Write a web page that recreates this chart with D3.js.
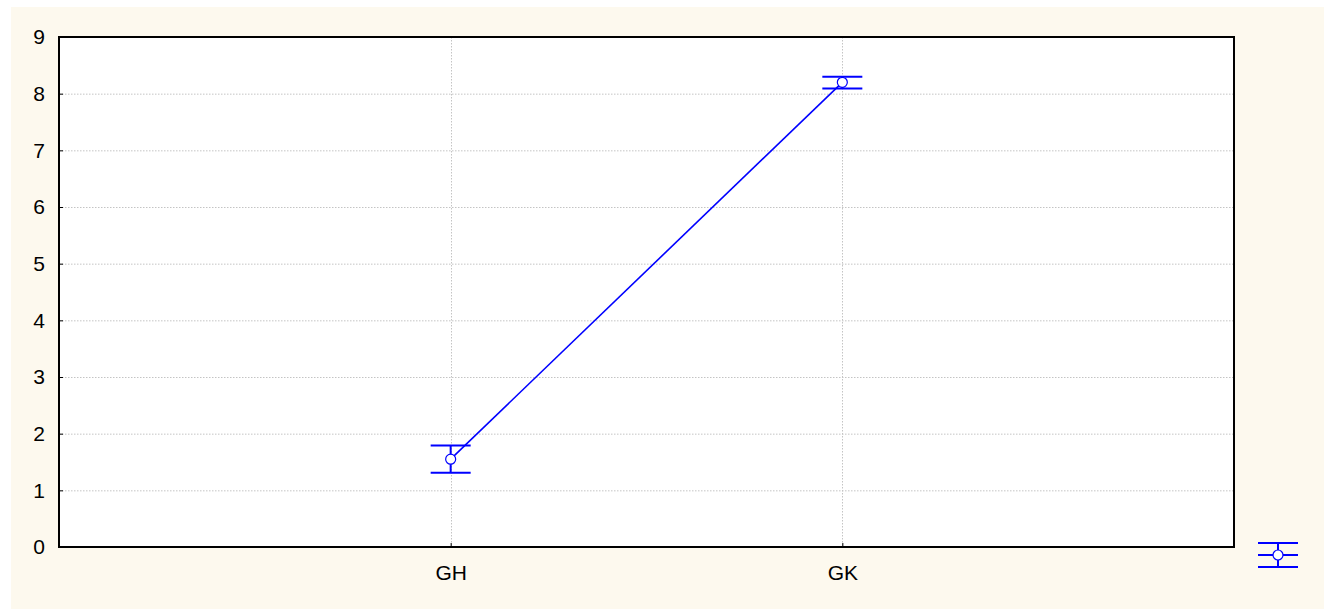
<!DOCTYPE html>
<html>
<head>
<meta charset="utf-8">
<script src="https://cdn.jsdelivr.net/npm/d3@7/dist/d3.min.js"></script>
<style>
  html, body { margin: 0; padding: 0; background: #ffffff; }
  svg { display: block; }
  text { font-family: "Liberation Sans", Arial, sans-serif; fill: #000; }
</style>
</head>
<body>
<svg id="chart" width="1324" height="609"></svg>
<script>
// Group means with their interval bounds
const categories = ["GH", "GK"];
const means = [1.55, 8.20];
const upper = [1.79, 8.30];
const lower = [1.31, 8.09];
const yTicks = [0, 1, 2, 3, 4, 5, 6, 7, 8, 9];

const W = 1324, H = 609;
const margin = { left: 59, top: 37, right: 1324 - 1234, bottom: 609 - 547 };
const pw = W - margin.left - margin.right;
const ph = H - margin.top - margin.bottom;
const blue = "#0000ff";

const svg = d3.select("#chart");

// cream page panel
svg.append("rect")
  .attr("x", 11).attr("y", 7)
  .attr("width", W - 11).attr("height", H - 7)
  .attr("fill", "#fdf9ee");

const g = svg.append("g").attr("transform", `translate(${margin.left},${margin.top})`);

const x = d3.scalePoint().domain(categories).range([0, pw]).padding(1);
const y = d3.scaleLinear().domain([0, 9]).range([ph, 0]);

// plot area
g.append("rect").attr("width", pw).attr("height", ph).attr("fill", "#ffffff");

// dotted grid
g.append("g").selectAll("line").data(yTicks.filter(t => t > 0 && t < 9)).join("line")
  .attr("x1", 0).attr("x2", pw)
  .attr("y1", d => y(d) + 0.5).attr("y2", d => y(d) + 0.5)
  .attr("stroke", "#c4c4c4").attr("stroke-width", 1).attr("stroke-dasharray", "1.5,1.5");
g.append("g").selectAll("line").data(categories).join("line")
  .attr("x1", d => Math.round(x(d)) + 0.5).attr("x2", d => Math.round(x(d)) + 0.5)
  .attr("y1", 0).attr("y2", ph)
  .attr("stroke", "#c4c4c4").attr("stroke-width", 1).attr("stroke-dasharray", "1.5,1.5");

// axes with inward ticks
const yAxis = g.append("g")
  .call(d3.axisLeft(y).tickValues(yTicks).tickFormat(d3.format("d")).tickSize(-4).tickPadding(14));
const xAxis = g.append("g").attr("transform", `translate(0,${ph})`)
  .call(d3.axisBottom(x).tickSize(-4).tickPadding(18));
[yAxis, xAxis].forEach(a => {
  a.attr("font-size", null).attr("font-family", null);
  a.select(".domain").remove();
  a.selectAll(".tick line").attr("stroke", "#000").attr("stroke-width", 1);
  a.selectAll("text")
    .style("font-size", "21px")
    .style("font-family", "'Liberation Sans', Arial, sans-serif")
    .attr("fill", "#000");
});

// frame
g.append("rect").attr("width", pw).attr("height", ph)
  .attr("fill", "none").attr("stroke", "#000").attr("stroke-width", 2);

// connecting line
const line = d3.line().x((d, i) => x(categories[i])).y(d => y(d));
g.append("path").datum(means).attr("d", line)
  .attr("fill", "none").attr("stroke", blue).attr("stroke-width", 1.6);

// interval whiskers
const capHalf = 20;
const bars = g.append("g").selectAll("g").data(categories).join("g");
bars.append("line")
  .attr("x1", d => x(d)).attr("x2", d => x(d))
  .attr("y1", (d, i) => y(upper[i])).attr("y2", (d, i) => y(lower[i]))
  .attr("stroke", blue).attr("stroke-width", 2);
bars.append("line")
  .attr("x1", d => x(d) - capHalf).attr("x2", d => x(d) + capHalf)
  .attr("y1", (d, i) => y(upper[i])).attr("y2", (d, i) => y(upper[i]))
  .attr("stroke", blue).attr("stroke-width", 2);
bars.append("line")
  .attr("x1", d => x(d) - capHalf).attr("x2", d => x(d) + capHalf)
  .attr("y1", (d, i) => y(lower[i])).attr("y2", (d, i) => y(lower[i]))
  .attr("stroke", blue).attr("stroke-width", 2);
bars.append("circle")
  .attr("cx", d => x(d)).attr("cy", (d, i) => y(means[i])).attr("r", 5)
  .attr("fill", "#ffffff").attr("stroke", blue).attr("stroke-width", 1.2);

// legend symbol
const lg = svg.append("g").attr("transform", "translate(1278,555)");
lg.append("line").attr("x1", 0).attr("x2", 0).attr("y1", -12).attr("y2", 12)
  .attr("stroke", blue).attr("stroke-width", 2);
[-12, 0, 12].forEach(dy => {
  lg.append("line").attr("x1", -capHalf).attr("x2", capHalf).attr("y1", dy).attr("y2", dy)
    .attr("stroke", blue).attr("stroke-width", 2);
});
lg.append("circle").attr("r", 5).attr("fill", "#ffffff").attr("stroke", blue).attr("stroke-width", 1.2);
</script>
</body>
</html>
